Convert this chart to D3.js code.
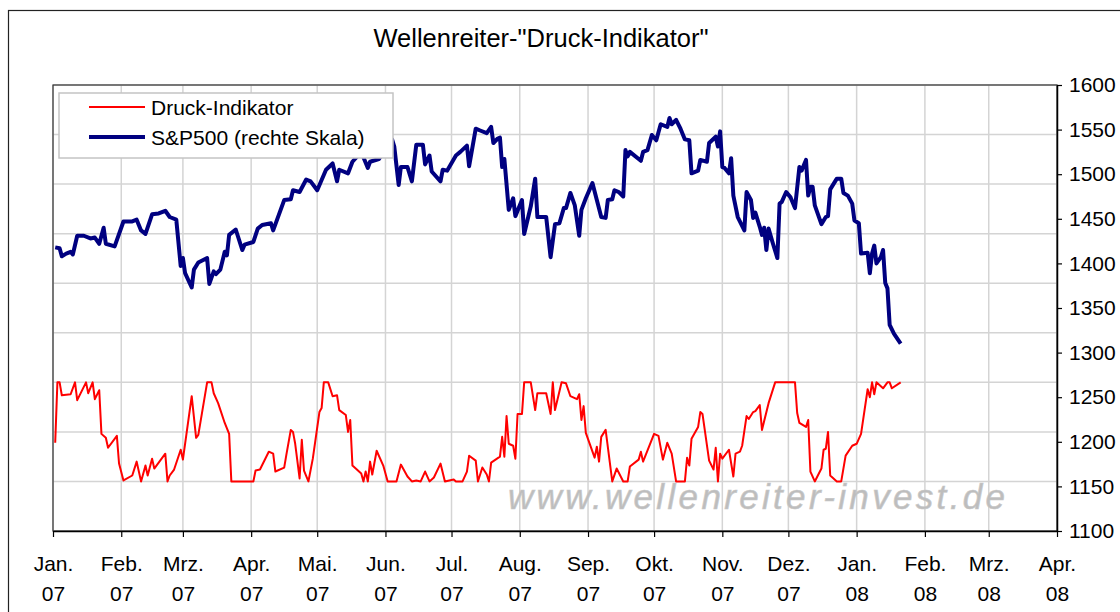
<!DOCTYPE html>
<html>
<head>
<meta charset="utf-8">
<script src="https://cdn.jsdelivr.net/npm/d3@7"></script>
<style>
  body { margin: 0; background: #fff; }
  svg text { font-family: "Liberation Sans", Arial, sans-serif; fill: #000; }
</style>
</head>
<body>
<svg id="chart" width="1120" height="612"></svg>
<script>
var chartTitle = 'Wellenreiter-"Druck-Indikator"';
var seriesNames = ["Druck-Indikator", "S&P500 (rechte Skala)"];
var watermark = "www.wellenreiter-invest.de";

var monthNames = ["Jan.", "Feb.", "Mrz.", "Apr.", "Mai.", "Jun.", "Jul.", "Aug.", "Sep.", "Okt.", "Nov.", "Dez."];
var rightTicks = [1100, 1150, 1200, 1250, 1300, 1350, 1400, 1450, 1500, 1550, 1600];
var leftTicks = [-50, 0, 50, 100, 150, 200, 250, 300, 350, 400];

// S&P500 (rechte Skala)
var spDates = ["02.01.07","04.01.07","05.01.07","07.01.07","09.01.07","10.01.07","12.01.07","15.01.07","18.01.07","20.01.07",
  "22.01.07","24.01.07","25.01.07","29.01.07","02.02.07","06.02.07","08.02.07","10.02.07","12.02.07","15.02.07",
  "18.02.07","21.02.07","23.02.07","26.02.07","28.02.07","01.03.07","02.03.07","05.03.07","06.03.07","08.03.07",
  "12.03.07","13.03.07","15.03.07","16.03.07","18.03.07","20.03.07","21.03.07","22.03.07","25.03.07","28.03.07",
  "29.03.07","02.04.07","04.04.07","06.04.07","10.04.07","11.04.07","16.04.07","19.04.07","20.04.07","23.04.07",
  "26.04.07","28.04.07","01.05.07","05.05.07","08.05.07","10.05.07","11.05.07","15.05.07","17.05.07","21.05.07",
  "24.05.07","25.05.07","29.05.07","04.06.07","05.06.07","07.06.07","08.06.07","11.06.07","13.06.07","15.06.07",
  "18.06.07","19.06.07","21.06.07","22.06.07","26.06.07","27.06.07","29.06.07","03.07.07","05.07.07","08.07.07",
  "09.07.07","12.07.07","14.07.07","17.07.07","19.07.07","20.07.07","22.07.07","23.07.07","24.07.07","25.07.07",
  "27.07.07","29.07.07","30.07.07","02.08.07","03.08.07","06.08.07","08.08.07","09.08.07","13.08.07","15.08.07",
  "17.08.07","19.08.07","21.08.07","22.08.07","24.08.07","26.08.07","28.08.07","29.08.07","31.08.07","03.09.07",
  "05.09.07","07.09.07","09.09.07","10.09.07","12.09.07","13.09.07","15.09.07","17.09.07","18.09.07","19.09.07",
  "20.09.07","25.09.07","26.09.07","28.09.07","30.09.07","02.10.07","04.10.07","07.10.07","08.10.07","09.10.07",
  "11.10.07","13.10.07","15.10.07","17.10.07","18.10.07","21.10.07","22.10.07","25.10.07","26.10.07","29.10.07",
  "30.10.07","31.10.07","01.11.07","02.11.07","04.11.07","05.11.07","06.11.07","08.11.07","11.11.07","12.11.07",
  "14.11.07","15.11.07","16.11.07","18.11.07","19.11.07","20.11.07","21.11.07","22.11.07","24.11.07","26.11.07",
  "27.11.07","28.11.07","30.11.07","02.12.07","04.12.07","06.12.07","07.12.07","09.12.07","10.12.07","11.12.07",
  "12.12.07","13.12.07","16.12.07","18.12.07","19.12.07","20.12.07","23.12.07","25.12.07","26.12.07","28.12.07",
  "30.12.07","31.12.07","02.01.08","03.01.08","06.01.08","07.01.08","08.01.08","09.01.08","10.01.08","12.01.08",
  "13.01.08","14.01.08","15.01.08","16.01.08","18.01.08","21.01.08"];
var spValues = [1418,1417,1408,1411,1413,1410,1431,1431,1428,1429,
  1422,1440,1422,1419,1447,1447,1449,1437,1433,1455,
  1456,1459,1452,1449,1397,1406,1389,1373,1393,1401,
  1406,1377,1391,1388,1393,1413,1409,1432,1438,1415,
  1421,1424,1439,1443,1445,1437,1471,1472,1482,1480,
  1494,1492,1482,1505,1512,1492,1505,1501,1514,1525,
  1507,1514,1517,1539,1531,1488,1508,1508,1492,1533,
  1533,1511,1521,1503,1492,1505,1504,1521,1525,1532,
  1509,1551,1549,1546,1553,1535,1540,1541,1508,1517,
  1460,1473,1453,1471,1433,1464,1495,1452,1452,1407,
  1444,1445,1462,1462,1479,1465,1431,1460,1473,1490,
  1471,1452,1451,1471,1472,1482,1480,1475,1527,1520,
  1525,1515,1525,1527,1544,1538,1556,1553,1563,1556,
  1561,1551,1539,1538,1501,1504,1516,1514,1535,1542,
  1531,1548,1508,1507,1501,1518,1476,1452,1437,1480,
  1471,1451,1457,1441,1432,1440,1415,1439,1422,1406,
  1467,1469,1480,1474,1462,1508,1504,1516,1476,1486,
  1486,1465,1444,1452,1453,1483,1495,1495,1479,1476,
  1467,1448,1445,1411,1412,1389,1411,1420,1400,1407,
  1415,1378,1372,1331,1321,1310];

// Druck-Indikator (linke Skala, nicht beschriftet)
var druckDates = ["02.01.07","03.01.07","04.01.07","05.01.07","09.01.07","11.01.07","12.01.07","16.01.07","17.01.07","19.01.07",
  "20.01.07","22.01.07","23.01.07","25.01.07","26.01.07","30.01.07","31.01.07","02.02.07","06.02.07","08.02.07",
  "10.02.07","12.02.07","13.02.07","15.02.07","16.02.07","21.02.07","22.02.07","23.02.07","25.02.07","28.02.07",
  "01.03.07","05.03.07","07.03.07","08.03.07","12.03.07","14.03.07","15.03.07","17.03.07","20.03.07","22.03.07",
  "23.03.07","02.04.07","03.04.07","05.04.07","09.04.07","11.04.07","12.04.07","16.04.07","17.04.07","19.04.07",
  "20.04.07","21.04.07","23.04.07","24.04.07","25.04.07","27.04.07","29.04.07","02.05.07","03.05.07","04.05.07",
  "06.05.07","08.05.07","10.05.07","11.05.07","14.05.07","15.05.07","16.05.07","17.05.07","21.05.07","22.05.07",
  "23.05.07","24.05.07","25.05.07","26.05.07","28.05.07","31.05.07","02.06.07","06.06.07","08.06.07","11.06.07",
  "13.06.07","15.06.07","17.06.07","19.06.07","21.06.07","23.06.07","26.06.07","28.06.07","02.07.07","03.07.07",
  "06.07.07","08.07.07","09.07.07","12.07.07","13.07.07","15.07.07","17.07.07","18.07.07","19.07.07","23.07.07",
  "24.07.07","25.07.07","26.07.07","27.07.07","29.07.07","30.07.07","31.07.07","02.08.07","03.08.07","06.08.07",
  "08.08.07","09.08.07","13.08.07","15.08.07","16.08.07","17.08.07","20.08.07","22.08.07","24.08.07","27.08.07",
  "28.08.07","29.08.07","30.08.07","31.08.07","04.09.07","05.09.07","06.09.07","07.09.07","09.09.07","12.09.07",
  "14.09.07","17.09.07","19.09.07","20.09.07","24.09.07","25.09.07","26.09.07","01.10.07","03.10.07","05.10.07",
  "07.10.07","09.10.07","11.10.07","15.10.07","16.10.07","17.10.07","18.10.07","21.10.07","22.10.07","23.10.07",
  "26.10.07","28.10.07","29.10.07","30.10.07","31.10.07","01.11.07","04.11.07","06.11.07","07.11.07","09.11.07",
  "10.11.07","12.11.07","13.11.07","15.11.07","16.11.07","18.11.07","19.11.07","22.11.07","25.11.07","04.12.07",
  "05.12.07","06.12.07","09.12.07","10.12.07","11.12.07","13.12.07","16.12.07","17.12.07","18.12.07","19.12.07",
  "20.12.07","23.12.07","25.12.07","27.12.07","30.12.07","01.01.08","03.01.08","06.01.08","07.01.08","08.01.08",
  "09.01.08","10.01.08","13.01.08","15.01.08","16.01.08","17.01.08","21.01.08"];
var druckValues = [39,100,100,87,88,100,82,100,89,100,
  83,92,48,44,34,46,18,1,6,20,
  0,16,6,23,13,28,0,6,12,32,
  22,86,44,47,100,100,89,79,59,48,
  0,0,11,12,30,28,10,14,27,52,
  50,38,3,42,11,0,23,70,74,100,
  100,86,87,72,67,50,62,16,8,0,
  10,0,20,7,31,16,0,0,17,5,
  0,1,0,10,0,4,18,0,2,0,
  0,10,26,21,0,14,7,0,19,25,
  45,25,66,38,36,23,68,68,100,100,
  72,89,89,68,100,72,100,99,86,83,
  88,62,76,49,24,35,20,45,52,0,
  13,0,0,15,22,30,20,48,46,22,
  39,28,0,0,24,16,43,55,70,68,
  21,12,34,0,28,23,32,5,28,30,
  36,66,63,70,71,77,52,79,100,100,
  69,59,55,62,10,0,13,32,33,50,
  6,0,0,26,36,38,48,93,85,100,
  88,100,94,100,100,94,100];

var parseDate = d3.timeParse("%d.%m.%y");
var spData = spDates.map(function (d, i) { return {date: parseDate(d), value: spValues[i]}; });
var druckData = druckDates.map(function (d, i) { return {date: parseDate(d), value: druckValues[i]}; });

var plot = {left: 53, right: 1057, top: 85, bottom: 531};
var fontSize = 21;

var svg = d3.select("#chart");

var x = d3.scaleTime()
  .domain([new Date(2007, 0, 1), new Date(2008, 3, 1)])
  .range([plot.left, plot.right]);
var yRight = d3.scaleLinear().domain([1100, 1600]).range([plot.bottom, plot.top]);
var yLeft = d3.scaleLinear().domain([-50, 400]).range([plot.bottom, plot.top]);
var monthTicks = d3.timeMonth.range(x.domain()[0], d3.timeDay.offset(x.domain()[1], 1));

svg.append("rect").attr("width", 1120).attr("height", 612).attr("fill", "#fff");
// outer chart frame (cut off right and below)
svg.append("rect")
  .attr("x", 8.5).attr("y", 10.5).attr("width", 1300).attr("height", 800)
  .attr("fill", "none").attr("stroke", "#222").attr("stroke-width", 1.2);

svg.append("text")
  .attr("x", 541).attr("y", 47)
  .attr("text-anchor", "middle")
  .style("font-size", "25.5px")
  .text(chartTitle);

// gridlines: horizontal ones belong to the hidden left axis
var grid = svg.append("g").attr("stroke", "#d4d4d4").attr("stroke-width", 1.5);
grid.selectAll("line.h").data(leftTicks).enter().append("line")
  .attr("x1", plot.left).attr("x2", plot.right)
  .attr("y1", function (d) { return yLeft(d); })
  .attr("y2", function (d) { return yLeft(d); });
grid.selectAll("line.v").data(monthTicks).enter().append("line")
  .attr("y1", plot.top).attr("y2", plot.bottom)
  .attr("x1", function (d) { return x(d); })
  .attr("x2", function (d) { return x(d); });

svg.append("text")
  .attr("x", 508).attr("y", 509)
  .attr("textLength", 497).attr("lengthAdjust", "spacing")
  .style("font-size", "35px").style("font-style", "italic")
  .style("fill", "#bdbdbd").style("stroke", "#c8c8c8").style("stroke-width", 0.6)
  .text(watermark);

svg.append("rect")
  .attr("x", plot.left).attr("y", plot.top)
  .attr("width", plot.right - plot.left).attr("height", plot.bottom - plot.top)
  .attr("fill", "none").attr("stroke", "#333").attr("stroke-width", 1.2);

var druckLine = d3.line()
  .x(function (d) { return x(d.date); })
  .y(function (d) { return yLeft(d.value); });
var spLine = d3.line()
  .x(function (d) { return x(d.date); })
  .y(function (d) { return yRight(d.value); });

svg.append("path").datum(druckData)
  .attr("d", druckLine)
  .attr("fill", "none").attr("stroke", "#ff0000").attr("stroke-width", 2)
  .attr("stroke-linejoin", "round");
svg.append("path").datum(spData)
  .attr("d", spLine)
  .attr("fill", "none").attr("stroke", "#000080").attr("stroke-width", 4)
  .attr("stroke-linejoin", "round");

// x axis, two-line month labels
var xAxis = svg.append("g")
  .attr("transform", "translate(0," + plot.bottom + ")")
  .call(d3.axisBottom(x).tickValues(monthTicks).tickSize(6).tickSizeOuter(0).tickFormat(""));
xAxis.select(".domain").attr("stroke", "#000").attr("stroke-width", 1.5);
xAxis.selectAll(".tick line").attr("stroke", "#000").attr("stroke-width", 1.2);
var xLabels = xAxis.selectAll(".tick text")
  .attr("y", 0).attr("dy", null)
  .style("font-size", fontSize + "px").style("fill", "#000");
xLabels.append("tspan").attr("x", 0).attr("y", 40)
  .text(function (d) { return monthNames[d.getMonth()]; });
xLabels.append("tspan").attr("x", 0).attr("y", 70)
  .text(function (d) { return d3.timeFormat("%y")(d); });

var yAxis = svg.append("g")
  .attr("transform", "translate(" + plot.right + ",0)")
  .call(d3.axisRight(yRight).tickValues(rightTicks).tickSize(5).tickSizeOuter(0)
    .tickPadding(7).tickFormat(d3.format("d")));
yAxis.select(".domain").attr("stroke", "#000").attr("stroke-width", 1.5);
yAxis.selectAll(".tick line").attr("stroke", "#000").attr("stroke-width", 1.2);
yAxis.selectAll(".tick text")
  .style("font-size", fontSize + "px").style("fill", "#000");

// legend
var legend = svg.append("g");
legend.append("rect")
  .attr("x", 59).attr("y", 93).attr("width", 334).attr("height", 65)
  .attr("fill", "#fff").attr("stroke", "#c4c4c4").attr("stroke-width", 1.5);
var legendColors = ["#ff0000", "#000080"];
var legendWidths = [2, 4];
seriesNames.forEach(function (name, i) {
  var cy = 107 + i * 30;
  legend.append("line")
    .attr("x1", 89).attr("x2", 145).attr("y1", cy).attr("y2", cy)
    .attr("stroke", legendColors[i]).attr("stroke-width", legendWidths[i]);
  legend.append("text")
    .attr("x", 151).attr("y", cy + 7.5)
    .style("font-size", fontSize + "px")
    .text(name);
});
</script>
</body>
</html>
